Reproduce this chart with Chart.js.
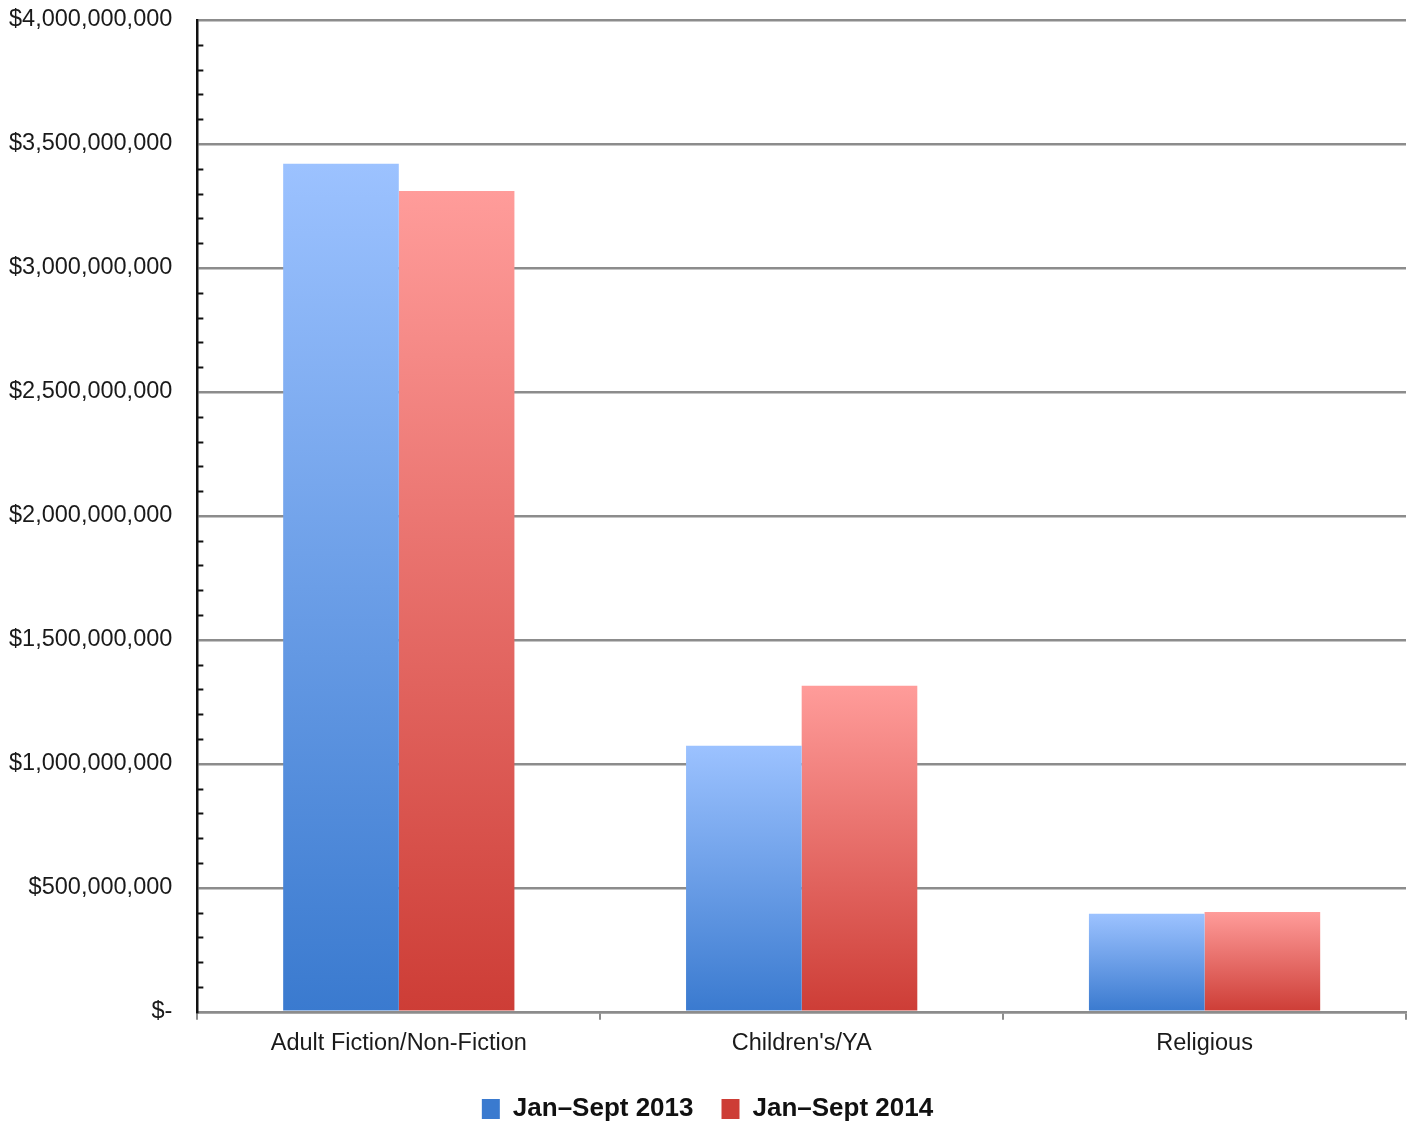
<!DOCTYPE html>
<html>
<head>
<meta charset="utf-8">
<script src="https://cdn.jsdelivr.net/npm/chart.js@4/dist/chart.umd.min.js"></script>
<style>
  html, body { margin: 0; padding: 0; background: #ffffff; }
  canvas { display: block; }
</style>
</head>
<body>
<canvas id="chart" width="1415" height="1128"></canvas>
<script>
// Book sales by category, January–September
const categories = ['Adult Fiction/Non-Fiction', "Children's/YA", 'Religious'];
const seriesNames = ['Jan–Sept 2013', 'Jan–Sept 2014'];
const sales2013 = [3420000000, 1073000000, 395000000];
const sales2014 = [3310000000, 1315000000, 403000000];

// Value axis range and tick spacing
const yMin = 0;
const yMax = 4000000000;
const yMajorStep = 500000000;
const yMinorStep = 100000000;

const FONT = '"Liberation Sans", Arial, Helvetica, sans-serif';

// Vertical gradient per bar: light at the bar top, darker at the base
function barFill(topColor, bottomColor, legendColor) {
  return (ctx) => {
    const chart = ctx.chart;
    const y = chart.scales && chart.scales.y;
    if (ctx.type !== 'data' || !y || !chart.chartArea) return legendColor;
    const yTop = y.getPixelForValue(ctx.raw);
    const yBase = y.getPixelForValue(0);
    if (!isFinite(yTop) || !isFinite(yBase) || yTop === yBase) return bottomColor;
    const g = chart.ctx.createLinearGradient(0, yTop, 0, yBase);
    g.addColorStop(0, topColor);
    g.addColorStop(1, bottomColor);
    return g;
  };
}

function moneyLabel(v) {
  if (v === 0) return '$-';
  return '$' + Number(v).toLocaleString('en-US');
}

// Short minor tick marks on the inner side of the value axis
const minorTicks = {
  id: 'minorTicks',
  afterDraw(chart) {
    const y = chart.scales.y;
    const left = chart.chartArea.left;
    const c = chart.ctx;
    c.save();
    c.strokeStyle = '#111111';
    c.lineWidth = 2;
    for (let v = yMin; v <= yMax; v += yMinorStep) {
      if (v % yMajorStep === 0) continue;
      const py = Math.round(y.getPixelForValue(v)) + 0.5;
      c.beginPath();
      c.moveTo(left, py);
      c.lineTo(left + 6, py);
      c.stroke();
    }
    c.restore();
  }
};

new Chart(document.getElementById('chart'), {
  type: 'bar',
  data: {
    labels: categories,
    datasets: [
      {
        label: seriesNames[0],
        data: sales2013,
        backgroundColor: barFill('#9cc2ff', '#3a7acf', '#5a92e4'),
        borderWidth: 0
      },
      {
        label: seriesNames[1],
        data: sales2014,
        backgroundColor: barFill('#ff9c9a', '#cd3d36', '#e0605a'),
        borderWidth: 0
      }
    ]
  },
  options: {
    responsive: false,
    animation: false,
    devicePixelRatio: 1,
    categoryPercentage: 0.574,
    barPercentage: 1.0,
    layout: { padding: { left: 9, right: 9, top: 20, bottom: 0 } },
    plugins: {
      legend: {
        position: 'bottom',
        maxHeight: 60,
        labels: {
          font: { family: FONT, size: 26, weight: 'bold' },
          color: '#111111',
          boxWidth: 18,
          boxHeight: 20,
          padding: 28
        }
      },
      tooltip: { enabled: false }
    },
    scales: {
      x: {
        grid: {
          display: true,
          drawOnChartArea: false,
          drawTicks: true,
          tickLength: 8,
          color: '#8c8c8c',
          lineWidth: 2
        },
        border: { display: true, color: '#8c8c8c', width: 2.5 },
        ticks: {
          font: { family: FONT, size: 23.5 },
          color: '#1a1a1a',
          padding: 10
        }
      },
      y: {
        min: yMin,
        max: yMax,
        grid: {
          display: true,
          drawTicks: true,
          tickLength: 25,
          tickColor: 'rgba(0,0,0,0)',
          color: '#8c8c8c',
          lineWidth: 2.5
        },
        border: { display: true, color: '#111111', width: 2.5 },
        ticks: {
          stepSize: yMajorStep,
          font: { family: FONT, size: 23.5 },
          color: '#1a1a1a',
          padding: 0,
          callback: (v) => moneyLabel(v)
        }
      }
    }
  },
  plugins: [minorTicks]
});
</script>
</body>
</html>
